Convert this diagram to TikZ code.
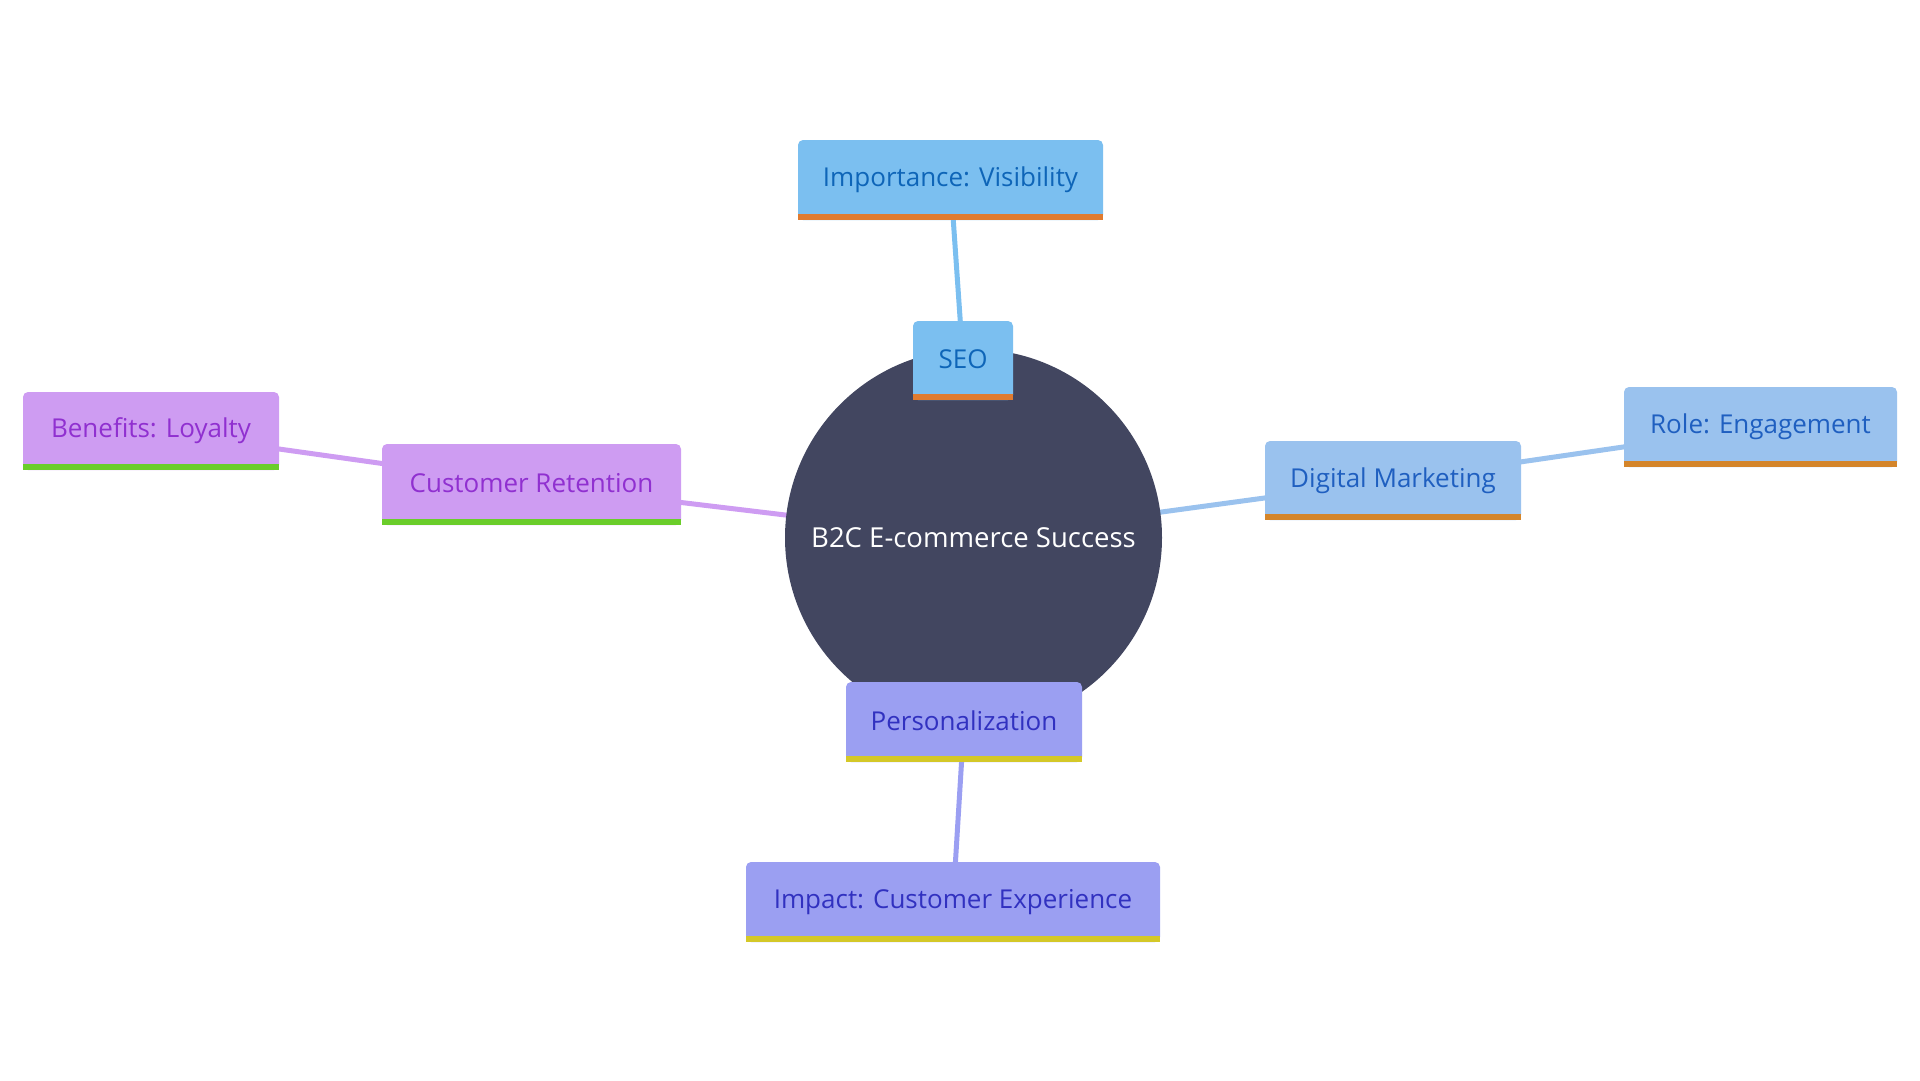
\documentclass[tikz,border=0pt]{standalone}
\usepackage{fontspec}
\setmainfont{Open Sans}
\definecolor{hub}{HTML}{424660}
\definecolor{seoF}{HTML}{7BBFF0}\definecolor{seoT}{HTML}{0E65B8}\definecolor{seoB}{HTML}{E07B2F}
\definecolor{dmF}{HTML}{9AC2EE}\definecolor{dmT}{HTML}{1F5FC0}\definecolor{dmB}{HTML}{D4852A}
\definecolor{crF}{HTML}{CE9CF2}\definecolor{crT}{HTML}{9030D0}\definecolor{crB}{HTML}{6ACD2A}
\definecolor{peF}{HTML}{9B9FF2}\definecolor{peT}{HTML}{3131C0}\definecolor{peB}{HTML}{D4C828}
\pgfdeclarelayer{bg}\pgfsetlayers{bg,main}
\newcommand\boxbar[2]{\fill[#2] (#1.south west) rectangle ([yshift=6pt]#1.south east);}
\newcommand\up[1]{\raisebox{3pt}{#1}}
\tikzset{
  x=1pt,y=-1pt,
  box/.style n args={2}{fill=#1, text=#2, rounded corners=5pt, inner sep=0pt,
     font=\fontsize{26}{30}\selectfont},
  link/.style={draw=#1, line width=5pt},
}
\begin{document}
\begin{tikzpicture}
\useasboundingbox (0,0) rectangle (1920,1080);
\node[circle, fill=hub, minimum size=377pt, inner sep=0pt, text=white,
  font=\fontsize{27.5}{32}\selectfont] (hub) at (973.5,537.6) {B2C E-commerce Success};
% level 1
\node[box={seoF}{seoT}, minimum width=100pt, minimum height=79pt] (seo) at (963,360.5) {\up{SEO}};
\node[box={dmF}{dmT}, minimum width=256pt, minimum height=79pt] (dm) at (1393,480.5) {\up{Digital Marketing}};
\node[box={crF}{crT}, minimum width=299pt, minimum height=81pt] (cr) at (531.5,484.5) {\up{Customer Retention}};
\node[box={peF}{peT}, minimum width=236pt, minimum height=80pt] (pe) at (964,722) {\up{Personalization}};
% level 2
\node[box={seoF}{seoT}, minimum width=305pt, minimum height=80pt] (imp) at (950.5,180) {\up{Importance: Visibility}};
\node[box={dmF}{dmT}, minimum width=273pt, minimum height=80pt] (role) at (1760.5,427) {\up{Role: Engagement}};
\node[box={crF}{crT}, minimum width=256pt, minimum height=78pt] (ben) at (151,431) {\up{Benefits: Loyalty}};
\node[box={peF}{peT}, minimum width=414pt, minimum height=80pt] (impc) at (953,902) {\up{Impact: Customer Experience}};
\boxbar{seo}{seoB}\boxbar{imp}{seoB}
\boxbar{dm}{dmB}\boxbar{role}{dmB}
\boxbar{cr}{crB}\boxbar{ben}{crB}
\boxbar{pe}{peB}\boxbar{impc}{peB}
\begin{pgfonlayer}{bg}
\draw[link=seoF] (hub.center) -- (seo.center);
\draw[link=seoF] (seo.center) -- (imp.center);
\draw[link=dmF] (hub.center) -- (dm.center);
\draw[link=dmF] (dm.center) -- (role.center);
\draw[link=crF] (hub.center) -- (cr.center);
\draw[link=crF] (cr.center) -- (ben.center);
\draw[link=peF] (hub.center) -- (pe.center);
\draw[link=peF] (pe.center) -- (impc.center);
\end{pgfonlayer}
\end{tikzpicture}
\end{document}
